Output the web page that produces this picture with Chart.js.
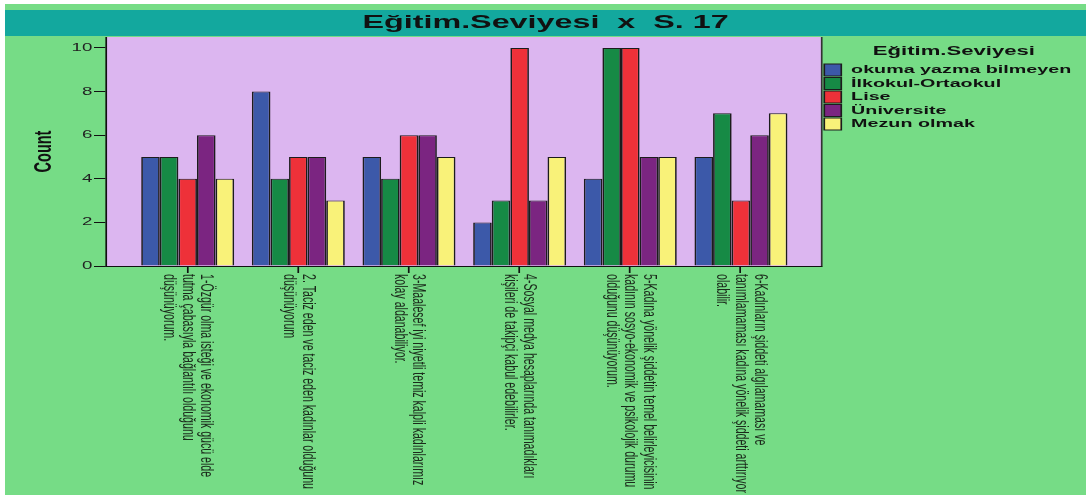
<!DOCTYPE html>
<html>
<head>
<meta charset="utf-8">
<script src="https://cdn.jsdelivr.net/npm/chart.js@4/dist/chart.umd.min.js"></script>
<style>
  html, body { margin: 0; padding: 0; background: #fff; overflow: hidden; }
  canvas { display: block; }
</style>
</head>
<body>
<canvas id="chart" width="639" height="497"></canvas>
<script>
// category labels, one array of lines per category
const categories = [
  ["1-Özgür olma isteği ve ekonomik gücü elde", "tutma çabasıyla bağlantılı olduğunu", "düşünüyorum."],
  ["2. Taciz eden ve taciz eden kadınlar olduğunu", "düşünüyorum"],
  ["3-Maalesef iyi niyetli temiz kalpli kadınlarımız", "kolay aldanabiliyor."],
  ["4-Sosyal medya hesaplarında tanımadıkları", "kişileri de takipçi kabul edebilirler."],
  ["5-Kadına yönelik şiddetin temel belirleyicisinin", "kadının sosyo-ekonomik ve psikolojik durumu", "olduğunu düşünüyorum."],
  ["6-Kadınların şiddeti algılamaması ve", "tanımlamaması kadına yönelik şiddeti arttırıyor", "olabilir."]
];
const xPos = [1, 2, 3, 4, 5, 6];

const groups = ["okuma yazma bilmeyen", "İlkokul-Ortaokul", "Lise", "Üniversite", "Mezun olmak"];
const okumaYazma = [5, 8, 5, 2, 4, 5];
const ilkokul = [5, 4, 4, 3, 10, 7];
const lise = [4, 5, 6, 10, 10, 3];
const universite = [6, 5, 6, 3, 5, 6];
const mezun = [4, 3, 5, 5, 5, 7];
const yTicks = [0, 2, 4, 6, 8, 10];

const colors = ["#3c59a9", "#168a45", "#ee3139", "#7b2581", "#f9f279"];

// the original picture is stretched sideways, so draw narrow and stretch
const SX = 1086 / 639;

Chart.defaults.font.family = '"Liberation Sans", Arial, sans-serif';

const series = [okumaYazma, ilkokul, lise, universite, mezun];

const stretch = {
  id: 'stretch',
  beforeDraw(c) {
    const ctx = c.ctx;
    ctx.setTransform(SX, 0, 0, 1, 0, 0);
    ctx.fillStyle = '#ffffff';
    ctx.fillRect(0, 0, 639, 497);
    ctx.fillStyle = '#76dc86';
    ctx.fillRect(5 / SX, 4, 639, 491);
    ctx.fillStyle = '#13a89e';
    ctx.fillRect(5 / SX, 10, 639, 26);
    const a = c.chartArea;
    ctx.fillStyle = '#dcb6f0';
    ctx.fillRect(a.left, a.top, a.right - a.left, a.bottom - a.top);
  },
  afterDraw(c) {
    const ctx = c.ctx;
    const a = c.chartArea;
    const xs = c.scales.x;
    ctx.save();
    ctx.strokeStyle = '#333';
    ctx.lineWidth = 1;
    ctx.beginPath();
    ctx.moveTo(a.right, a.top);
    ctx.lineTo(a.right, a.bottom);
    ctx.stroke();

    ctx.font = '10.6px "Liberation Sans", Arial, sans-serif';
    ctx.fillStyle = '#1b2a1b';
    ctx.textAlign = 'left';
    ctx.textBaseline = 'middle';
    categories.forEach((lines, i) => {
      const x = xs.getPixelForValue(xPos[i]);
      lines.forEach((line, j) => {
        ctx.save();
        ctx.translate(x, xs.top + 8);
        ctx.rotate(Math.PI / 2);
        ctx.fillText(line, 0, (j - (lines.length - 1) / 2) * 11);
        ctx.restore();
      });
    });
    ctx.restore();
  }
};

const canvas = document.getElementById('chart');
const chart = new Chart(canvas, {
  type: 'bar',
  data: {
    datasets: groups.map((g, k) => ({
      label: g,
      data: series[k].map((v, i) => ({ x: xPos[i], y: v })),
      backgroundColor: colors[k],
      borderColor: '#1c1c1c',
      borderWidth: 1,
      categoryPercentage: 0.84,
      barPercentage: 1
    }))
  },
  options: {
    responsive: false,
    animation: false,
    devicePixelRatio: 1,
    events: [],
    layout: { padding: { left: 3, right: 0, top: 0, bottom: 0 } },
    scales: {
      x: {
        type: 'linear',
        min: 0.27,
        max: 6.73,
        offset: false,
        afterBuildTicks: s => { s.ticks = xPos.map(v => ({ value: v })); },
        afterFit: s => { s.height = 231; },
        grid: { offset: false, drawOnChartArea: false, tickLength: 7, color: '#111' },
        border: { color: '#111', width: 1 },
        ticks: { display: false }
      },
      y: {
        min: 0,
        max: 10.5,
        afterBuildTicks: s => { s.ticks = yTicks.map(v => ({ value: v })); },
        afterFit: s => { s.width = 59.9; },
        grid: { drawOnChartArea: false, tickLength: 7.6, color: '#111' },
        border: { color: '#111', width: 1 },
        ticks: { padding: 1, color: '#222', font: { size: 11 } },
        title: {
          display: true,
          text: 'Count',
          color: '#111',
          font: { size: 14.5, weight: 'bold' },
          padding: { top: 14.3, bottom: 0 }
        }
      }
    },
    plugins: {
      title: {
        display: true,
        text: 'Eğitim.Seviyesi  x  S. 17',
        color: '#111',
        font: { size: 19, weight: 'bold' },
        padding: { top: 11.4, bottom: 2.8 }
      },
      legend: {
        position: 'right',
        align: 'start',
        maxWidth: 155.5,
        title: {
          display: true,
          text: 'Eğitim.Seviyesi',
          color: '#111',
          font: { size: 13, weight: 'bold' },
          padding: { top: 44.7, bottom: 2.2 }
        },
        labels: {
          boxWidth: 10,
          boxHeight: 12,
          padding: 1.5,
          color: '#111',
          font: { size: 11.6, weight: 'bold' }
        }
      },
      tooltip: { enabled: false }
    }
  },
  plugins: [stretch]
});

canvas.width = 1086;
canvas.style.width = '1086px';
canvas.style.height = '497px';
chart.draw();
</script>
</body>
</html>
